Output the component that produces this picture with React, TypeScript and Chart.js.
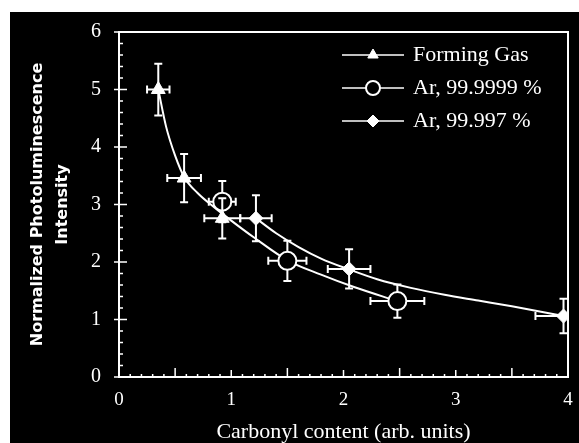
import React, { useEffect, useRef } from 'react';
import { Chart, registerables } from 'chart.js';
import { drawPoint } from 'chart.js/helpers';

Chart.register(...registerables);

// ---- data ----
const xTickMax = 4;
const yTickMax = 6;

const formingGasX = [0.35, 0.58, 0.92];
const formingGasY = [5.0, 3.46, 2.76];
const formingGasXErr = [0.1, 0.15, 0.16];
const formingGasYErr = [0.45, 0.42, 0.35];

const ar9999X = [0.92, 1.5, 2.48];
const ar9999Y = [3.05, 2.02, 1.32];
const ar9999XErr = [0.12, 0.17, 0.24];
const ar9999YErr = [0.36, 0.35, 0.29];

const ar997X = [1.22, 2.05, 3.96];
const ar997Y = [2.76, 1.88, 1.06];
const ar997XErr = [0.14, 0.19, 0.25];
const ar997YErr = [0.4, 0.34, 0.3];

const fitLowX = [0.35, 0.42, 0.5, 0.58, 0.7, 0.85, 1.0, 1.2, 1.5, 1.8, 2.1, 2.48];
const fitLowY = [5.0, 4.35, 3.85, 3.48, 3.2, 2.95, 2.72, 2.43, 2.03, 1.78, 1.56, 1.32];

const fitHighX = [1.22, 1.4, 1.6, 1.8, 2.05, 2.3, 2.6, 2.9, 3.2, 3.5, 3.96];
const fitHighY = [2.76, 2.5, 2.26, 2.06, 1.87, 1.7, 1.55, 1.43, 1.33, 1.23, 1.06];

const legendLabels = ['Forming Gas', 'Ar, 99.9999 %', 'Ar, 99.997 %'];

const pts = (xs: number[], ys: number[]) => xs.map((x, i) => ({ x, y: ys[i] }));

const bgPlugin = {
  id: 'bgPlugin',
  beforeDraw(chart: any) {
    const { ctx, width, height } = chart;
    ctx.save();
    ctx.fillStyle = '#ffffff';
    ctx.fillRect(0, 0, width, height);
    ctx.fillStyle = '#000000';
    ctx.fillRect(10, 12, width - 10, height - 12);
    ctx.restore();
  },
};

const framePlugin = {
  id: 'framePlugin',
  beforeDatasetsDraw(chart: any) {
    const { ctx, chartArea, scales } = chart;
    const { left, right, top, bottom } = chartArea;
    const xs = scales.x;
    const ys = scales.y;
    ctx.save();
    ctx.strokeStyle = '#ffffff';
    ctx.lineWidth = 2;
    ctx.strokeRect(left, top, right - left, bottom - top);
    ctx.lineWidth = 1.5;
    ctx.beginPath();
    for (let i = 0; i <= xTickMax * 10; i++) {
      const px = xs.getPixelForValue(i / 10);
      const len = i % 10 === 0 ? 7 : i % 5 === 0 ? 9 : 3;
      ctx.moveTo(px, bottom);
      ctx.lineTo(px, bottom - len);
    }
    for (let i = 0; i <= yTickMax * 5; i++) {
      const py = ys.getPixelForValue(i / 5);
      if (i % 5 === 0) {
        ctx.moveTo(left - 5, py);
        ctx.lineTo(left + 8, py);
      } else {
        ctx.moveTo(left, py);
        ctx.lineTo(left + 4, py);
      }
    }
    ctx.stroke();
    ctx.restore();
  },
};

const errorBarPlugin = {
  id: 'errorBarPlugin',
  beforeDatasetDraw(chart: any, args: any) {
    const ds: any = chart.data.datasets[args.index];
    if (!ds.errX) return;
    const { ctx, chartArea, scales } = chart;
    const xs = scales.x;
    const ys = scales.y;
    const cap = 4;
    ctx.save();
    ctx.beginPath();
    ctx.rect(chartArea.left, chartArea.top, chartArea.right - chartArea.left, chartArea.bottom - chartArea.top);
    ctx.clip();
    ctx.strokeStyle = '#ffffff';
    ctx.lineWidth = 2;
    ctx.beginPath();
    ds.data.forEach((p: any, i: number) => {
      const cx = xs.getPixelForValue(p.x);
      const cy = ys.getPixelForValue(p.y);
      const x1 = xs.getPixelForValue(p.x - ds.errX[i]);
      const x2 = xs.getPixelForValue(p.x + ds.errX[i]);
      const y1 = ys.getPixelForValue(p.y + ds.errY[i]);
      const y2 = ys.getPixelForValue(p.y - ds.errY[i]);
      ctx.moveTo(x1, cy); ctx.lineTo(x2, cy);
      ctx.moveTo(x1, cy - cap); ctx.lineTo(x1, cy + cap);
      ctx.moveTo(x2, cy - cap); ctx.lineTo(x2, cy + cap);
      ctx.moveTo(cx, y1); ctx.lineTo(cx, y2);
      ctx.moveTo(cx - cap, y1); ctx.lineTo(cx + cap, y1);
      ctx.moveTo(cx - cap, y2); ctx.lineTo(cx + cap, y2);
    });
    ctx.stroke();
    ctx.restore();
  },
};

const legendPlugin = {
  id: 'legendPlugin',
  afterDatasetsDraw(chart: any) {
    const { ctx, chartArea } = chart;
    const { right, top } = chartArea;
    ctx.save();
    const rows = chart.data.datasets.filter((d: any) => d.legendRow !== undefined);
    rows.forEach((ds: any) => {
      const y = top + 23 + ds.legendRow * 33;
      const lx1 = right - 226;
      const lx2 = right - 164;
      ctx.strokeStyle = '#ffffff';
      ctx.lineWidth = 1.5;
      ctx.beginPath();
      ctx.moveTo(lx1, y);
      ctx.lineTo(lx2, y);
      ctx.stroke();
      ctx.fillStyle = ds.backgroundColor;
      ctx.strokeStyle = '#ffffff';
      ctx.lineWidth = ds.pointBorderWidth || 1;
      drawPoint(ctx, { pointStyle: ds.pointStyle, radius: ds.legendRadius, borderWidth: ds.pointBorderWidth || 1, rotation: 0 }, (lx1 + lx2) / 2, y);
      ctx.fillStyle = '#ffffff';
      ctx.font = '22px "Liberation Serif"';
      ctx.textBaseline = 'middle';
      ctx.textAlign = 'left';
      ctx.fillText(ds.label, right - 155, y);
    });
    ctx.restore();
  },
};

export default function App() {
  const ref = useRef<HTMLCanvasElement | null>(null);
  useEffect(() => {
    document.body.style.margin = '0';
    document.body.style.background = '#ffffff';
    if (!ref.current) return;
    const chart = new Chart(ref.current, {
      type: 'scatter',
      data: {
        datasets: [
          {
            label: legendLabels[0],
            data: pts(formingGasX, formingGasY),
            errX: formingGasXErr,
            errY: formingGasYErr,
            legendRow: 0,
            legendRadius: 6,
            pointStyle: 'triangle',
            pointRadius: 8,
            backgroundColor: '#ffffff',
            borderColor: '#ffffff',
            pointBorderWidth: 1,
            order: 1,
          } as any,
          {
            label: legendLabels[1],
            data: pts(ar9999X, ar9999Y),
            errX: ar9999XErr,
            errY: ar9999YErr,
            legendRow: 1,
            legendRadius: 7,
            pointStyle: 'circle',
            pointRadius: 9,
            backgroundColor: '#000000',
            borderColor: '#ffffff',
            pointBorderWidth: 2,
            order: 1,
          } as any,
          {
            label: legendLabels[2],
            data: pts(ar997X, ar997Y),
            errX: ar997XErr,
            errY: ar997YErr,
            legendRow: 2,
            legendRadius: 6,
            pointStyle: 'rectRot',
            pointRadius: 7,
            backgroundColor: '#ffffff',
            borderColor: '#ffffff',
            pointBorderWidth: 1,
            order: 1,
          } as any,
          {
            label: 'fit-low',
            data: pts(fitLowX, fitLowY),
            showLine: true,
            pointRadius: 0,
            borderColor: '#ffffff',
            borderWidth: 2,
            cubicInterpolationMode: 'monotone',
            order: 2,
          } as any,
          {
            label: 'fit-high',
            data: pts(fitHighX, fitHighY),
            showLine: true,
            pointRadius: 0,
            borderColor: '#ffffff',
            borderWidth: 2,
            cubicInterpolationMode: 'monotone',
            order: 2,
          } as any,
        ],
      },
      options: {
        animation: false,
        responsive: false,
        events: [],
        layout: { padding: { left: 10, top: 32, right: 8, bottom: 0 } },
        plugins: { legend: { display: false }, tooltip: { enabled: false } },
        scales: {
          x: {
            type: 'linear',
            min: 0,
            max: xTickMax,
            grid: { display: false },
            border: { display: false },
            ticks: {
              stepSize: 1,
              color: '#ffffff',
              padding: 4,
              font: { family: '"Liberation Serif"', size: 19 },
            },
            title: {
              display: true,
              text: 'Carbonyl content (arb. units)',
              color: '#ffffff',
              font: { family: '"Liberation Serif"', size: 22, lineHeight: 1 },
              padding: { top: 0, bottom: 0 },
            },
            afterFit: (s: any) => { s.height = 66; },
          },
          y: {
            type: 'linear',
            min: 0,
            max: yTickMax,
            grid: { display: false },
            border: { display: false },
            ticks: {
              stepSize: 1,
              color: '#ffffff',
              padding: 10,
              font: { family: '"Liberation Serif"', size: 20 },
            },
            title: {
              display: true,
              text: ['Normalized Photoluminescence', 'Intensity'],
              color: '#ffffff',
              font: { family: '"DejaVu Sans"', size: 16, weight: 'bold', lineHeight: '25px' },
              padding: { top: 15, bottom: 0 },
            },
            afterFit: (s: any) => { s.width = 109; },
          },
        },
      } as any,
      plugins: [bgPlugin, framePlugin, errorBarPlugin, legendPlugin],
    });
    return () => chart.destroy();
  }, []);
  return <canvas ref={ref} width={579} height={443} style={{ display: 'block', width: 579, height: 443 }} />;
}
